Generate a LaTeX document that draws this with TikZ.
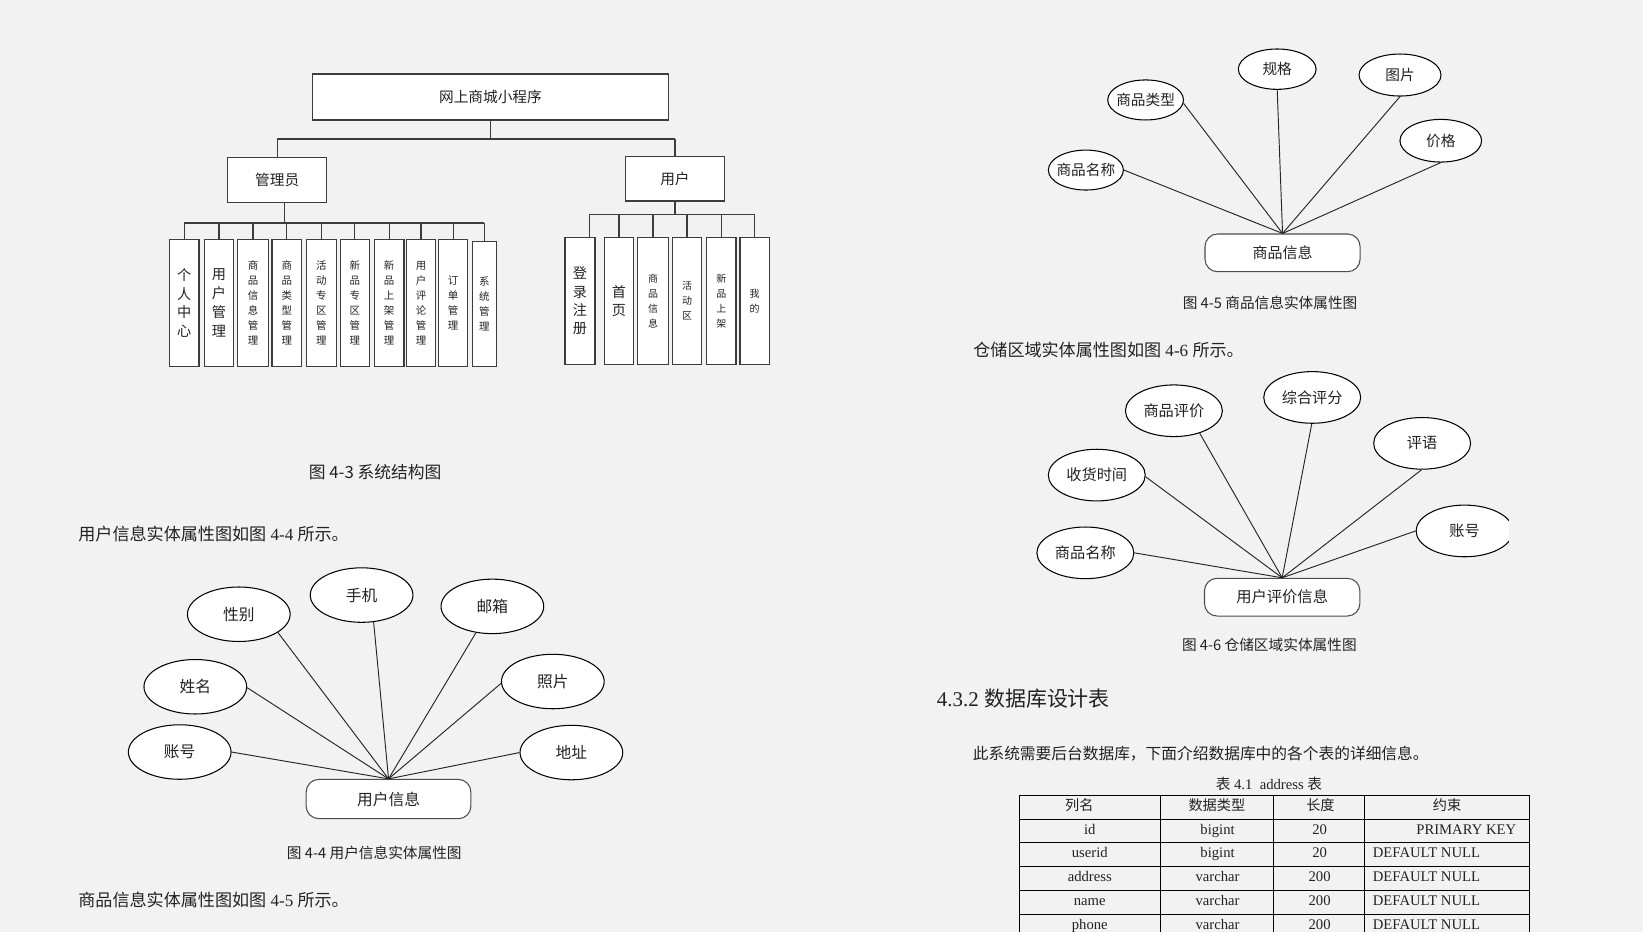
\documentclass[tikz,border=0pt]{standalone}
\usepackage{fontspec}
\setmainfont{Liberation Serif}
\newfontfamily\cjk{Noto Sans CJK SC}
\usetikzlibrary{shapes.geometric}
\definecolor{bg}{HTML}{F2F2F2}
\definecolor{ink}{HTML}{222222}
\definecolor{frame}{HTML}{3C3C3C}
\newcommand\fsz[2]{\fontsize{#1}{#2}\selectfont}
\begin{document}
\begin{tikzpicture}[x=1pt,y=-1pt,
  conn/.style={draw=frame, line width=1.2pt},
  sbox/.style={draw=frame, line width=1.2pt, fill=white, inner sep=0pt, text=ink, font=\cjk\fsz{14}{16}},
  vbox/.style={sbox, align=center, minimum height=121.5, minimum width=28},
  vbig/.style={font=\cjk\fsz{13.5}{18.1}},
  vsmall/.style={font=\cjk\fsz{10}{14.3}},
  attr/.style={ellipse, draw=black, line width=1pt, fill=white, inner sep=0pt, text=ink},
  ent/.style={rectangle, rounded corners=12pt, draw=black!70, line width=1pt, fill=white, inner sep=0pt, text=ink},
  link/.style={draw=black!85, line width=0.9pt},
  txt/.style={inner sep=0pt, text=ink},
  cell/.style={inner sep=0pt, text=ink, font=\fsz{14}{14}, text height=9.5pt, text depth=3pt},
  tline/.style={draw=black, line width=0.9pt},
]
\fill[bg] (0,0) rectangle (1568,889);
\useasboundingbox (0,0) rectangle (1568,889);

% ---------------- Fig 4-3 structure chart ----------------
\node[sbox, minimum width=339.7, minimum height=43.9] (top) at (468.05,92.55) {网上商城小程序};
\node[sbox, minimum width=94.7, minimum height=42.6] (admin) at (264.55,171.8) {管理员};
\node[sbox, minimum width=94.3, minimum height=42.3] (user) at (644.15,170.65) {用户};

\node[vbox, vbig, minimum width=28] (a1) at (175.9,289.15) {个\\人\\中\\心};
\node[vbox, vbig, minimum width=28] (a2) at (209,289.15) {用\\户\\管\\理};
\node[vbox, vsmall, minimum width=29.2] (a3) at (241.5,289.15) {商\\品\\信\\息\\管\\理};
\node[vbox, vsmall, minimum width=28] (a4) at (273.7,289.15) {商\\品\\类\\型\\管\\理};
\node[vbox, vsmall, minimum width=28.4] (a5) at (306.6,289.15) {活\\动\\专\\区\\管\\理};
\node[vbox, vsmall, minimum width=27.7] (a6) at (338.55,289.15) {新\\品\\专\\区\\管\\理};
\node[vbox, vsmall, minimum width=28.1] (a7) at (371.45,289.15) {新\\品\\上\\架\\管\\理};
\node[vbox, vsmall, minimum width=28.1] (a8) at (401.85,289.15) {用\\户\\评\\论\\管\\理};
\node[vbox, vsmall, minimum width=27.7] (a9) at (432.45,289.15) {订\\单\\管\\理};
\node[vbox, vsmall, minimum width=22.6, minimum height=119.3] (a10) at (462.2,290.25) {系\\统\\管\\理};

\node[vbox, font=\cjk\fsz{13.5}{17.5}, minimum width=28.7] (u1) at (553.55,287.25) {登\\录\\注\\册};
\node[vbox, font=\cjk\fsz{13.5}{17.5}, minimum width=28] (u2) at (590.8,287.25) {首\\页};
\node[vbox, font=\cjk\fsz{9.5}{14.3}, minimum width=29.2] (u3) at (623.2,287.25) {商\\品\\信\\息};
\node[vbox, font=\cjk\fsz{9.5}{14.3}, minimum width=28] (u4) at (655.7,287.25) {活\\动\\区};
\node[vbox, font=\cjk\fsz{9.5}{14.3}, minimum width=28] (u5) at (688.4,287.25) {新\\品\\上\\架};
\node[vbox, font=\cjk\fsz{9.5}{14.3}, minimum width=28] (u6) at (720.2,287.25) {我\\的};

\coordinate (busA) at (0,132.6);
\coordinate (busB) at (0,212.8);
\coordinate (busC) at (0,205);
\draw[conn] (top.south) -- (top.south |- busA);
\draw[conn] (admin.north |- busA) -- (user.north |- busA);
\draw[conn] (admin.north |- busA) -- (admin.north);
\draw[conn] (user.north |- busA) -- (user.north);
\draw[conn] ([xshift=7pt]admin.south) -- ([xshift=7pt]admin.south |- busB);
\draw[conn] (a1.north |- busB) -- (a10.north |- busB);
\foreach \i in {1,...,10} {\draw[conn] (a\i.north |- busB) -- (a\i.north);}
\draw[conn] (user.south) -- (user.south |- busC);
\draw[conn] ([xshift=8.9pt]u1.north |- busC) -- (u6.north |- busC);
\draw[conn] ([xshift=8.9pt]u1.north |- busC) -- ([xshift=8.9pt]u1.north);
\foreach \i in {2,...,6} {\draw[conn] (u\i.north |- busC) -- (u\i.north);}

\node[txt, font=\cjk\fsz{16}{16}] (cap43) at (358,450.2) {图 4-3 系统结构图};
\node[txt, anchor=west, font=\fsz{16.3}{16}] (p44) at (74.6,509.6) {{\cjk 用户信息实体属性图如图} 4-4 {\cjk 所示。}};

% ---------------- Fig 4-4 user info ER ----------------
\node[ent, minimum width=157.2, minimum height=37.5, font=\cjk\fsz{15}{15}] (ui) at (370.8,762.55) {用户信息};
\begin{scope}[every node/.style={attr, minimum width=98, minimum height=52, font=\cjk\fsz{15}{15}}]
\node (xb) at (227.9,586.2) {性别};
\node (sj) at (345.1,567.9) {手机};
\node (yx) at (469.9,578.7) {邮箱};
\node (xm) at (186.4,655.4) {姓名};
\node (zp) at (527.6,650.4) {照片};
\node (zh1) at (171.5,717.7) {账号};
\node (dz) at (545.3,718.2) {地址};
\end{scope}
\draw[link] (ui.north) -- (xb.-25);
\draw[link] (ui.north) -- (sj.-66);
\draw[link] (ui.north) -- (yx.-122);
\draw[link] (ui.north) -- (xm.-1);
\draw[link] (ui.north) -- (zp.182);
\draw[link] (ui.north) -- (zh1.0);
\draw[link] (ui.north) -- (dz.180);
\node[txt, font=\cjk\fsz{14}{14}] (cap44) at (357.2,814.4) {图 4-4 用户信息实体属性图};
\node[txt, anchor=west, font=\fsz{16.3}{16}] (p45) at (74.6,858.9) {{\cjk 商品信息实体属性图如图} 4-5 {\cjk 所示。}};

% ---------------- Fig 4-5 goods info ER ----------------
\node[ent, minimum width=148, minimum height=36, font=\cjk\fsz{14.3}{14}] (gi) at (1224,241.3) {商品信息};
\begin{scope}[every node/.style={attr, inner xsep=-7pt, font=\cjk\fsz{14}{14}}]
\node[minimum width=71.6, minimum height=38.1] (gmc) at (1036.3,162.3) {商品名称};
\node[minimum width=72.3, minimum height=38.2] (glx) at (1093.3,95.4) {商品类型};
\node[minimum width=74.2, minimum height=38.5] (ggg) at (1218.9,66) {规格};
\node[minimum width=78.2, minimum height=40.1] (gtp) at (1336.1,71.6) {图片};
\node[minimum width=77.9, minimum height=40.7] (gjg) at (1375,134.3) {价格};
\end{scope}
\draw[link] (gi.north) -- (gmc.0);
\draw[link] (gi.north) -- (glx.-5);
\draw[link] (gi.north) -- (ggg.-90);
\draw[link] (gi.north) -- (gtp.-90);
\draw[link] (gi.north) -- (gjg.-90);
\node[txt, font=\cjk\fsz{14}{14}] (cap45) at (1212.1,289.5) {图 4-5 商品信息实体属性图};
\node[txt, anchor=west, font=\fsz{16.3}{16}] (p46) at (928.7,334) {{\cjk 仓储区域实体属性图如图} 4-6 {\cjk 所示。}};

% ---------------- Fig 4-6 review ER ----------------
\node[ent, minimum width=148.3, minimum height=36, font=\cjk\fsz{14.6}{14}] (rv) at (1223.65,569.9) {用户评价信息};
\begin{scope}[every node/.style={attr, minimum width=92.5, minimum height=49.3, font=\cjk\fsz{14.5}{14}}]
\node (rpj) at (1120.3,392) {商品评价};
\node (rzh) at (1252.3,379.3) {综合评分};
\node (rpy) at (1357.2,423.1) {评语};
\node (rsh) at (1046.7,453.4) {收货时间};
\node (rmc) at (1035.8,527.6) {商品名称};
\end{scope}
\begin{scope}
\clip (0,0) rectangle (1440,889);
\node[attr, minimum width=92.5, minimum height=49.3, font=\cjk\fsz{14.5}{14}] (rzhh) at (1397.7,506.7) {账号};
\end{scope}
\draw[link] (rv.north) -- (rsh.-2);
\draw[link] (rv.north) -- (rpj.-41);
\draw[link] (rv.north) -- (rzh.-91);
\draw[link] (rv.north) -- (rpy.-91);
\draw[link] (rv.north) -- (rzhh.180);
\draw[link] (rv.north) -- (rmc.0);
\node[txt, font=\cjk\fsz{14}{14}] (cap46) at (1211.4,615.6) {图 4-6 仓储区域实体属性图};

% ---------------- 4.3.2 ----------------
\node[txt, anchor=west, font=\fsz{20}{20}] (h432) at (894,666.5) {4.3.2 {\cjk 数据库设计表}};
\node[txt, anchor=west, font=\cjk\fsz{15}{15}] (p47) at (928.2,719.6) {此系统需要后台数据库，下面介绍数据库中的各个表的详细信息。};
\node[txt, font=\fsz{14}{14}] (tcap) at (1211,748.2) {{\cjk 表} 4.1\ \ address {\cjk 表}};

% table
\foreach \yy in {758.7,781.6,803.9,826.8,849.4,872.3} {\draw[tline] (973,\yy) -- (1459.7,\yy);}
\foreach \xx in {973,1107.5,1215.4,1302.3,1459.7} {\draw[tline] (\xx,758.7) -- (\xx,889);}
\node[cell, font=\cjk\fsz{13.5}{14}] (h1) at (1030,769.9) {列名};
\node[cell, font=\cjk\fsz{13.5}{14}] (h2) at (1161.3,769.9) {数据类型};
\node[cell, font=\cjk\fsz{13.5}{14}] (h3) at (1260.2,769.9) {长度};
\node[cell, font=\cjk\fsz{13.5}{14}] (h4) at (1381,769.9) {约束};
\node[cell] (r1a) at (1040,793.1) {id};
\node[cell] (r1b) at (1162,793.1) {bigint};
\node[cell] (r1c) at (1259.4,793.1) {20};
\node[cell, anchor=east] (r1d) at (1447.2,793.1) {PRIMARY KEY};
\node[cell] (r2a) at (1040,815.4) {userid};
\node[cell] (r2b) at (1162,815.4) {bigint};
\node[cell] (r2c) at (1259.4,815.4) {20};
\node[cell, anchor=west] (r2d) at (1310,815.4) {DEFAULT NULL};
\node[cell] (r3a) at (1040,838.3) {address};
\node[cell] (r3b) at (1162,838.3) {varchar};
\node[cell] (r3c) at (1259.4,838.3) {200};
\node[cell, anchor=west] (r3d) at (1310,838.3) {DEFAULT NULL};
\node[cell] (r4a) at (1040,861.2) {name};
\node[cell] (r4b) at (1162,861.2) {varchar};
\node[cell] (r4c) at (1259.4,861.2) {200};
\node[cell, anchor=west] (r4d) at (1310,861.2) {DEFAULT NULL};
\node[cell] (r5a) at (1040,883.4) {phone};
\node[cell] (r5b) at (1162,883.4) {varchar};
\node[cell] (r5c) at (1259.4,883.4) {200};
\node[cell, anchor=west] (r5d) at (1310,883.4) {DEFAULT NULL};
\end{tikzpicture}
\end{document}
